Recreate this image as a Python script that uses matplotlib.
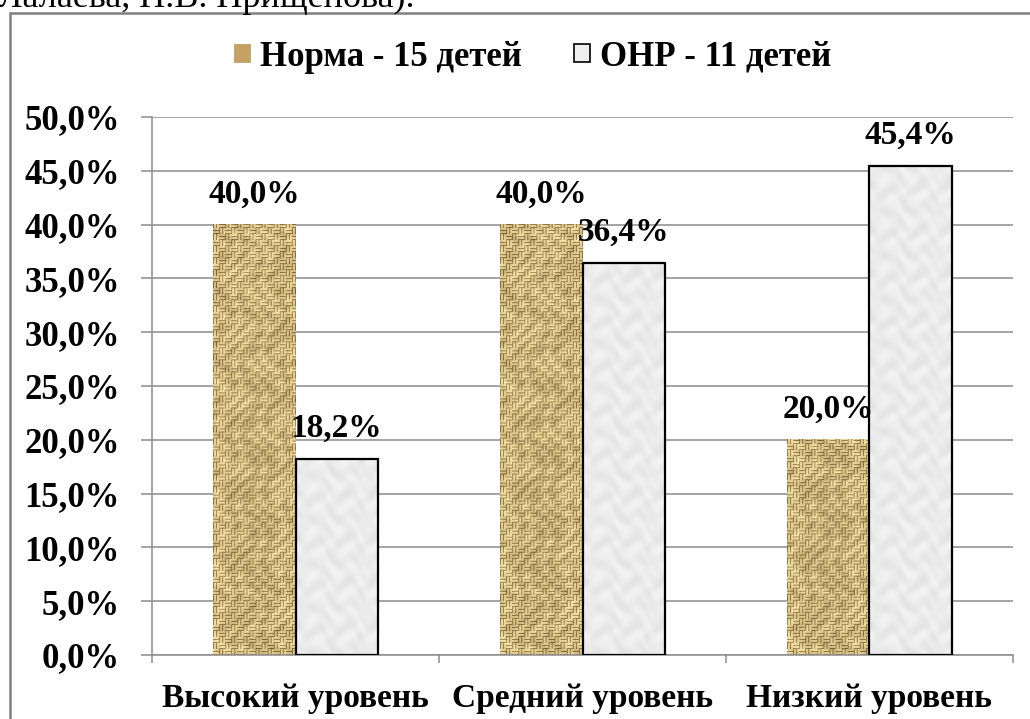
import matplotlib
matplotlib.use('Agg')
import matplotlib.pyplot as plt
from matplotlib.patches import Patch, Rectangle
import numpy as np

categories = ['Высокий уровень', 'Средний уровень', 'Низкий уровень']
norma = [40.0, 40.0, 20.0]
onr = [18.2, 36.4, 45.4]
series_names = ['Норма - 15 детей', 'ОНР - 11 детей']
yticks = np.arange(0, 55, 5)

plt.rcParams['font.family'] = ['Liberation Serif', 'DejaVu Serif']
plt.rcParams['font.weight'] = 'bold'

W, H = 1030, 719
fig = plt.figure(figsize=(W / 100, H / 100), dpi=100)
ax = fig.add_axes([152 / W, 1 - 655 / H, 861 / W, 538 / H])


def burlap(h, w):
    # woven sack-cloth look: alternating blocks of horizontal / vertical threads
    y, x = np.mgrid[0:h, 0:w]
    cell = 6
    horiz = ((x // cell) + (y // cell)) % 2 == 0
    thread = np.where(horiz, (y % 3 != 0), (x % 3 != 0)).astype(float)
    blot = (0.5 + 0.5 * np.sin(x * 0.21 + np.sin(y * 0.09) * 4)
            * np.cos(y * 0.17 + np.sin(x * 0.13) * 2))
    v = 0.12 + 0.58 * thread + 0.3 * blot
    dark = np.array([110, 82, 35]) / 255
    light = np.array([245, 226, 165]) / 255
    return dark + (light - dark) * np.clip(v, 0, 1)[..., None]


def marble(h, w):
    y, x = np.mgrid[0:h, 0:w]
    v = (0.5 + 0.25 * np.sin(x / 4.0 + 2.5 * np.sin(y / 7.0))
         + 0.25 * np.cos(y / 3.5 + x / 6.0 + np.sin(x / 5.0) * 2))
    g = (228 + 15 * v) / 255
    return np.dstack([g, g, g])


x = np.arange(len(categories))
bw = 0.286
bars1 = ax.bar(x - bw / 2, norma, bw, color='#c9a96a', linewidth=0, zorder=2)
bars2 = ax.bar(x + bw / 2, onr, bw, color='#ececec', edgecolor='black',
               linewidth=1.6, zorder=3)

px_per_unit = 538 / 50
for bars, tex in ((bars1, burlap), (bars2, marble)):
    for b in bars:
        x0, w, h = b.get_x(), b.get_width(), b.get_height()
        img = tex(max(int(h * px_per_unit), 2), 82)
        ax.imshow(img, extent=[x0, x0 + w, 0, h], aspect='auto',
                  origin='lower', zorder=b.get_zorder(), interpolation='bilinear')
for b in bars2:
    b.set_facecolor('none')
    b.set_zorder(4)

for bars in (bars1, bars2):
    for b in bars:
        v = b.get_height()
        ax.annotate(('%.1f%%' % v).replace('.', ','),
                    (b.get_x() + b.get_width() / 2, v),
                    xytext=(0, 11), textcoords='offset points',
                    ha='center', va='bottom', fontsize=24, fontweight='bold',
                    zorder=6)

ax.set_xlim(-0.5, len(categories) - 0.5)
ax.set_ylim(0, 50)
ax.set_yticks(yticks)
ax.set_yticklabels([('%.1f%%' % t).replace('.', ',') for t in yticks],
                   fontsize=25, fontweight='bold')
ax.yaxis.grid(True, color='#8c8c8c', linewidth=1.1, zorder=0)
ax.set_axisbelow(True)
ax.tick_params(axis='y', length=8, width=1.1, color='#8c8c8c', pad=15)

ax.set_xticks(np.arange(-0.5, len(categories)))
ax.set_xticklabels([])
ax.set_xticks(x, minor=True)
ax.set_xticklabels(categories, minor=True, fontsize=24, fontweight='bold')
ax.tick_params(axis='x', which='major', length=6, width=1.1, color='#8c8c8c')
ax.tick_params(axis='x', which='minor', length=0, pad=20)

for s in ('top', 'right'):
    ax.spines[s].set_visible(False)
for s in ('left', 'bottom'):
    ax.spines[s].set_color('#8c8c8c')
    ax.spines[s].set_linewidth(1.1)

handles = [Patch(facecolor='#c4a263', edgecolor='#b89858', linewidth=0.5),
           Patch(facecolor='#eeeeee', edgecolor='black', linewidth=1.2)]
fig.legend(handles, series_names, loc='center', ncol=2,
           bbox_to_anchor=(533 / W, 1 - 57 / H), frameon=False,
           prop={'size': 25, 'weight': 'bold'},
           handlelength=0.45, handleheight=0.45, handletextpad=0.3,
           columnspacing=1.5)

fig.patches.append(Rectangle((10 / W, -0.1), 1.2, 1 - 13 / H + 0.1,
                             transform=fig.transFigure, fill=False,
                             edgecolor='#808080', linewidth=1.8))
fig.text(-2 / W, 1 - 7 / H, 'Лалаева, Н.В. Прищепова).', fontsize=26,
         fontweight='normal', va='baseline', ha='left')

fig.savefig('out.png', dpi=100)
